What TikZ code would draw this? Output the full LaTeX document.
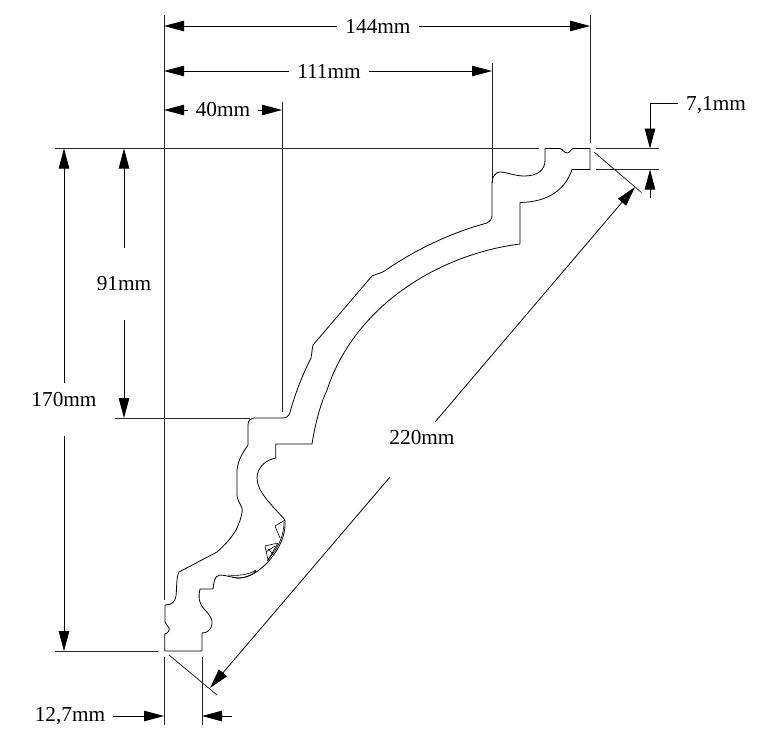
\documentclass[tikz,border=0pt]{standalone}
\usepackage{fontspec}
\setmainfont{Liberation Serif}
\usetikzlibrary{arrows.meta}
\tikzset{
  x=1pt,y=-1pt,
  prof/.style={draw=black,line width=0.8pt,line join=round},
  fine/.style={draw=black,line width=0.6pt,line join=round},
  ext/.style={draw=black!85,line width=0.8pt},
  dimline/.style={draw=black,line width=0.8pt,-{Triangle[length=20pt,width=10.5pt]}},
  lab/.style={font=\fontsize{21.3pt}{23pt}\selectfont,inner sep=0pt,outer xsep=8pt,outer ysep=2pt},
}
\begin{document}
\begin{tikzpicture}
\useasboundingbox (0,0) rectangle (767,755);
% extension lines
\draw[ext] (164,15) -- (164,600);
\draw[ext] (164,657) -- (164,725);
\draw[ext] (202,657) -- (202,725);
\draw[ext] (590,15) -- (590,143);
\draw[ext] (492,63) -- (492,183);
\draw[ext] (282,102) -- (282,412);
\draw[ext] (55,148.5) -- (539,148.5);
\draw[ext] (596,148.5) -- (659,148.5);
\draw[ext] (596,169.5) -- (659,169.5);
\draw[ext] (115,418) -- (250,418);
\draw[ext] (55,651) -- (158,651);
\draw[ext] (594,152) -- (641.5,192.5);
\draw[ext] (169,655) -- (217,695);
% profile
\draw[prof] (545,148.5) -- (560,148.5) .. controls (563,149) and (564,153) .. (567,153)
  .. controls (570,153) and (571,149) .. (573,148.5) -- (590,148.5) -- (590,169.5) -- (572,169.5)
  .. controls (565,190) and (548,202) .. (520,202.5) -- (520,244)
  .. controls (440,254) and (355,305) .. (327,390)
  .. controls (320,405) and (315,425) .. (312,444)
  -- (275.7,444) -- (275.7,458)
  .. controls (265,460) and (257,468) .. (257,478)
  .. controls (257,492) and (272,505) .. (285,520)
  .. controls (286,535) and (280,548) .. (268,562)
  .. controls (258,572) and (250,577) .. (240,578)
  .. controls (232,578) and (226,575) .. (220,575)
  .. controls (214,576) and (214,582) .. (213,589)
  -- (200,589) .. controls (198,598) and (199,604) .. (205,610)
  .. controls (210,615) and (213,620) .. (212,624)
  .. controls (211,630) and (207,633) .. (202,633)
  -- (202,651) -- (164.7,651) -- (164.7,634)
  .. controls (168,633) and (170,630) .. (169,628)
  .. controls (168,625) and (165,624) .. (165,622)
  -- (165,605) .. controls (172,605) and (175,602) .. (176,596)
  .. controls (177,588) and (176,578) .. (179,572)
  -- (217,552) .. controls (225,545) and (232,537) .. (236,530)
  .. controls (240,522) and (243,512) .. (242,508)
  .. controls (240,503) and (237,500) .. (237,495)
  -- (237,470) .. controls (238,460) and (243,452) .. (248,445)
  -- (248,425) .. controls (248,420) and (251,418) .. (254,418)
  -- (283,418) .. controls (288,418) and (290,414) .. (291,409)
  .. controls (294,398) and (300,380) .. (311,358)
  .. controls (312,353) and (312,349) .. (313,345)
  -- (372,276) .. controls (376,274) and (382,273) .. (386,270)
  .. controls (415,250) and (450,233) .. (487,223)
  .. controls (490,222) and (492,219) .. (492,215)
  -- (492,183) .. controls (492,176) and (496,172) .. (500,172)
  .. controls (506,172) and (515,176) .. (524,176)
  .. controls (538,176) and (545,170) .. (545,160) -- cycle;
% detail near the bottom of the cove
\draw[fine] (285,520) -- (275,526) -- (280,538) (284,522) .. controls (284,535) and (279,547) .. (267,561);
\draw[fine] (278,543) -- (265,546) -- (268,560) -- (278,543) (266,552) -- (275,546) (268,549) -- (273,554);
\draw[fine] (228,575) .. controls (238,576) and (248,575) .. (256,570) (232,577) .. controls (238,579) and (248,578.5) .. (256,571);
% dimension texts
\node[lab] (t144) at (378,26) {144mm};
\node[lab] (t111) at (329,71) {111mm};
\node[lab] (t40) at (223,110) {40mm};
\node[lab] (t91) at (124,284) {91mm};
\node[lab] (t170) at (64,400) {170mm};
\node[lab] (t220) at (422,438) {220mm};
\node[lab] (t71) at (716,105) {7,1mm};
\node[lab] (t127) at (70,716) {12,7mm};
% dimension lines
\draw[dimline] (t144.west) -- (164,26);
\draw[dimline] (t144.east) -- (590,26);
\draw[dimline] (t111.west) -- (164,71);
\draw[dimline] (t111.east) -- (492,71);
\draw[dimline] (t40.west) -- (164,110);
\draw[dimline] (t40.east) -- (282,110);
\draw[dimline] ([yshift=27pt]t91.north) -- (124,148.5);
\draw[dimline] ([yshift=-27pt]t91.south) -- (124,418);
\draw[dimline] ([yshift=8pt]t170.north) -- (64,148.5);
\draw[dimline] ([yshift=-27pt]t170.south) -- (64,651);
\draw[dimline] (435,422) -- (635,187);
\draw[dimline] (390,477) -- (210,688);
\draw[dimline] ([yshift=1.5pt]t71.west) -- (650,103.5) -- (650,148.5);
\draw[dimline] (650,198) -- (650,169.5);
\draw[dimline] (t127.east) -- (164,716);
\draw[dimline] (232,716) -- (202,716);
\end{tikzpicture}
\end{document}
